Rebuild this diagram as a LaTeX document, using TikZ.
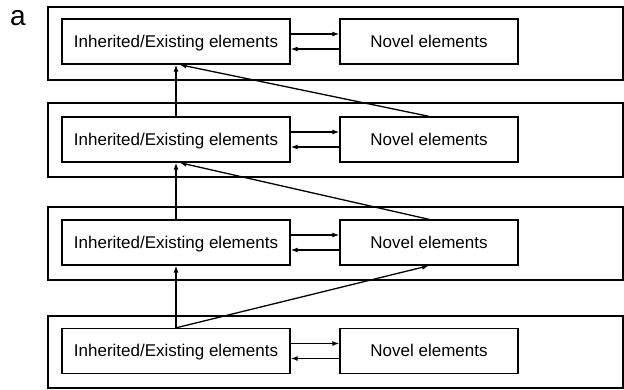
\documentclass[tikz,border=0pt]{standalone}
\usepackage{fontspec}
\setmainfont{Liberation Sans}
\usetikzlibrary{arrows.meta}
\begin{document}
\begin{tikzpicture}[x=1pt,y=-1pt,
  panel/.style={draw,line width=1.3pt,minimum width=575pt,inner sep=0pt},
  elem/.style={draw,line width=1.3pt,minimum height=45pt,inner sep=0pt,
    text height=12pt,text depth=1pt,font=\fontsize{17}{20}\selectfont},
  oldbox/.style={elem,minimum width=228pt},
  newbox/.style={elem,minimum width=178pt},
  link/.style={line width=1.3pt,-{Latex[length=7pt,width=5pt]}}]
\useasboundingbox (0,0) rectangle (624,389);
\node at (18,18) {\fontsize{28}{30}\selectfont a};
% generation panels
\node[panel,minimum height=73pt] (P1) at (335.5,43.5) {};
\node[panel,minimum height=74pt] (P2) at (335.5,140) {};
\node[panel,minimum height=73pt] (P3) at (335.5,243.5) {};
\node[panel,minimum height=72pt] (P4) at (335.5,352) {};
% element boxes with their two-way exchange
\foreach \i/\y in {1/41.5,2/139.5,3/242.5,4/351}{
  \node[oldbox] (L\i) at (176,\y) {Inherited/Existing elements};
  \node[newbox] (N\i) at (429,\y) {Novel elements};
  \draw[link] ([yshift=7.5pt]L\i.east) -- ([yshift=7.5pt]N\i.west);
  \draw[link] ([yshift=-7.5pt]N\i.west) -- ([yshift=-7.5pt]L\i.east);
}
% inheritance between generations
\draw[link] (L4.north) -- (L3.south);
\draw[link] (L4.north) -- (N3.south);
\draw[link] (L3.north) -- (L2.south);
\draw[link] (N3.north) -- ([xshift=3.5pt]L2.south);
\draw[link] (L2.north) -- (L1.south);
\draw[link] (N2.north) -- ([xshift=3.5pt]L1.south);
\end{tikzpicture}
\end{document}
